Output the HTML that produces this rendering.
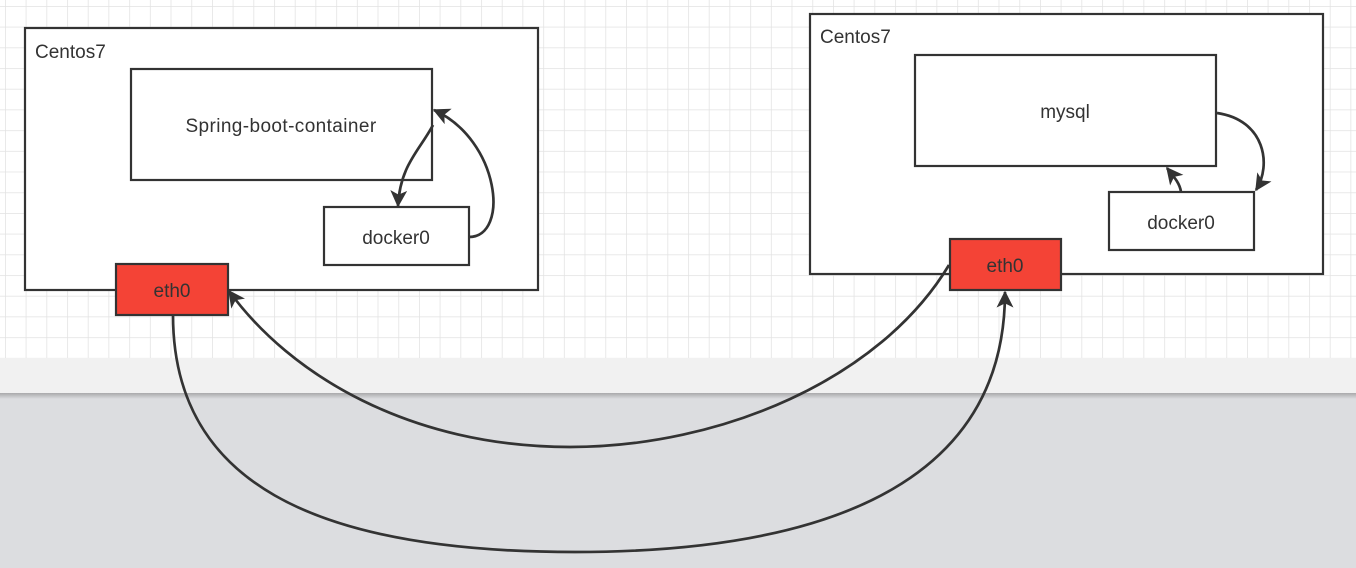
<!DOCTYPE html>
<html><head><style>
html,body{margin:0;padding:0;width:1356px;height:568px;overflow:hidden;background:#fff}
svg{display:block}
text{font-family:"Liberation Sans",sans-serif;fill:#333}
</style></head><body>
<svg width="1356" height="568" xmlns="http://www.w3.org/2000/svg">
<defs>
<pattern id="g" x="5" y="6" width="20.7" height="20.7" patternUnits="userSpaceOnUse">
<path d="M0 0V20.7M0 0H20.7" stroke="#e2e2e2" stroke-width="1.5" fill="none"/>
</pattern>
<linearGradient id="sh" x1="0" y1="0" x2="0" y2="1">
<stop offset="0" stop-color="#a9a9ab"/><stop offset="1" stop-color="#dcdde0"/>
</linearGradient>
<marker id="b" viewBox="0 0 12 12" refX="11" refY="6" markerWidth="17" markerHeight="17" orient="auto" markerUnits="userSpaceOnUse">
<path d="M0 0L12 6L0 12L3 6Z" fill="#333"/>
</marker>
</defs>
<rect width="1356" height="358" fill="url(#g)"/>
<rect y="358" width="1356" height="35" fill="#f1f1f1"/>
<rect y="393" width="1356" height="175" fill="#dcdde0"/>
<rect y="393" width="1356" height="6" fill="url(#sh)"/>
<g fill="#fff" stroke="#333" stroke-width="2.2">
<rect x="25" y="28" width="513" height="262"/>
<rect x="131" y="69" width="301" height="111"/>
<rect x="324" y="207" width="145" height="58"/>
<rect x="810" y="14" width="513" height="260"/>
<rect x="915" y="55" width="301" height="111"/>
<rect x="1109" y="192" width="145" height="58"/>
<rect x="116" y="264" width="112" height="51" fill="#f44336"/>
<rect x="950" y="239" width="111" height="51" fill="#f44336"/>
</g>
<g font-size="19">
<text x="35" y="58">Centos7</text>
<text x="820" y="43">Centos7</text>
<text x="281" y="132" text-anchor="middle" letter-spacing="0.4">Spring-boot-container</text>
<text x="396" y="244" text-anchor="middle">docker0</text>
<text x="1065" y="118" text-anchor="middle">mysql</text>
<text x="1181" y="229" text-anchor="middle">docker0</text>
<text x="172" y="297" text-anchor="middle">eth0</text>
<text x="1005" y="272" text-anchor="middle">eth0</text>
</g>
<g fill="none" stroke="#333" stroke-width="2.7">
<path d="M433 125C420 150 400 165 398 206" marker-end="url(#b)"/>
<path d="M469 237C510 237 500 140 434 110" marker-end="url(#b)"/>
<path d="M1217 113C1265 120 1272 165 1256 190" marker-end="url(#b)"/>
<path d="M1181 192C1180 184 1175 178 1167 168" marker-end="url(#b)"/>
<path d="M173 315C173 480 310 552 575 552C850 552 1005 470 1005 292" marker-end="url(#b)"/>
<path d="M949 265C880 380 720 447 570 447C410 447 290 375 229 291" marker-end="url(#b)"/>
</g>
</svg>
</body></html>
